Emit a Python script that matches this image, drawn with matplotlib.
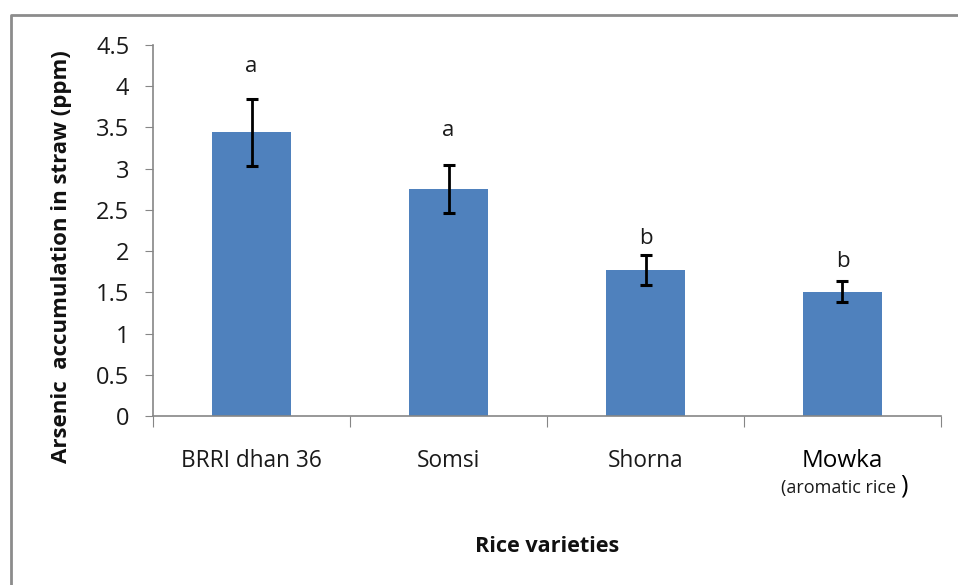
import matplotlib
matplotlib.use("Agg")
import matplotlib.pyplot as plt
import matplotlib.transforms as mtransforms
import numpy as np

# arsenic in straw, mean and error per variety
varieties = ["BRRI dhan 36", "Somsi", "Shorna", "Mowka"]
arsenic_straw = [3.44, 2.75, 1.77, 1.51]
arsenic_err = [0.41, 0.29, 0.18, 0.125]
groups = ["a", "a", "b", "b"]
yticks = [0, 0.5, 1, 1.5, 2, 2.5, 3, 3.5, 4, 4.5]

plt.rcParams["font.family"] = ["Open Sans", "DejaVu Sans"]

BAR_COLOR = "#4F81BD"
AXIS_GRAY = "#868686"
TEXT = "#1a1a1a"

fig = plt.figure(figsize=(9.58, 5.85), dpi=100)
ax = fig.add_axes([153 / 958, 1 - 416 / 585, 788 / 958, 371 / 585])

x = np.arange(len(varieties))
ax.bar(x, arsenic_straw, width=0.4, color=BAR_COLOR, zorder=2)
ax.errorbar(x, arsenic_straw, yerr=arsenic_err, fmt="none", ecolor="black",
            elinewidth=2, capsize=4.5, capthick=2.2, zorder=3)

# significance letters, a little above each error bar
letter_gap = [0.26, 0.30, 0.07, 0.11]
for xi, m, e, g, gap in zip(x, arsenic_straw, arsenic_err, groups, letter_gap):
    ax.text(xi, m + e + gap, g, ha="center", va="bottom", fontsize=16, color=TEXT)

ax.set_xlim(-0.5, len(varieties) - 0.5)
ax.set_ylim(0, 4.5)
ax.set_yticks(yticks)
ax.set_yticklabels([f"{t:g}" for t in yticks], fontsize=17, color=TEXT)
ax.tick_params(axis="y", direction="out", length=6, color=AXIS_GRAY, pad=11)

# category boundaries carry the tick marks, names sit between them
ax.set_xticks(np.arange(-0.5, len(varieties), 1.0))
ax.set_xticklabels([])
ax.tick_params(axis="x", which="major", direction="out", length=8, color=AXIS_GRAY)
ax.set_xticks(x, minor=True)
ax.set_xticklabels(varieties, minor=True, fontsize=16.3, color=TEXT)
ax.tick_params(axis="x", which="minor", length=0, pad=24)
mowka = ax.get_xticklabels(minor=True)[-1]
mowka.set_fontsize(17.5)
mowka.set_color("black")

trans = mtransforms.blended_transform_factory(ax.transData, fig.transFigure)
ax.text(x[-1] - 0.02, 1 - 488 / 585, "(aromatic rice", transform=trans,
        ha="center", va="center", fontsize=13, color=TEXT)
ax.text(x[-1] + 0.31, 1 - 486 / 585, ")", transform=trans,
        ha="center", va="center", fontsize=18, color="black")

for side in ["top", "right"]:
    ax.spines[side].set_visible(False)
for side in ["left", "bottom"]:
    ax.spines[side].set_color(AXIS_GRAY)
    ax.spines[side].set_linewidth(1.2)

fig.text(62 / 958, 1 - 257 / 585, "Arsenic  accumulation in straw (ppm)", rotation=90,
         ha="center", va="center", fontsize=16, fontweight="bold", color="#111111")
fig.text(547 / 958, 1 - 547 / 585, "Rice varieties", ha="center", va="center",
         fontsize=15.6, fontweight="bold", color="#111111")

# outer chart frame (open on the right and bottom)
frame = plt.Line2D([11 / 958, 11 / 958, 1.0], [0.0, 1 - 15 / 585, 1 - 15 / 585],
                   transform=fig.transFigure, color="#8C8C8C", linewidth=2)
fig.add_artist(frame)

fig.savefig("out.png", dpi=100)
